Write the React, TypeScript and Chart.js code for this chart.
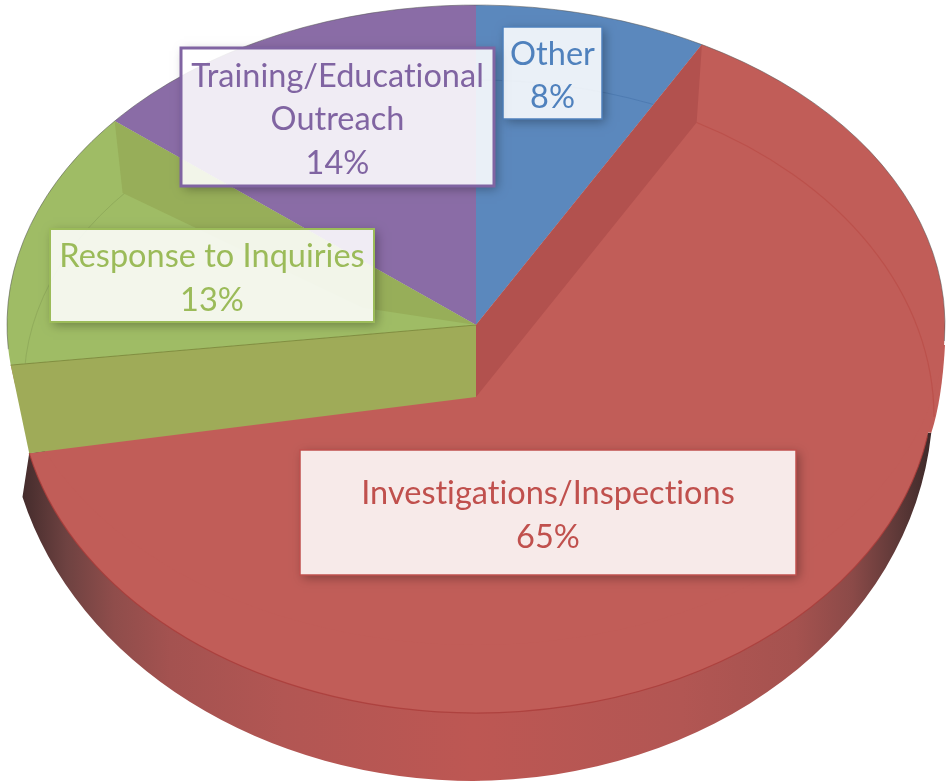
import React, { useEffect, useRef } from "react";
import { Chart, registerables } from "chart.js";

Chart.register(...registerables);

const categories = ["Other", "Investigations/Inspections", "Response to Inquiries", "Training/Educational Outreach"];
const shares = [8, 65, 13, 14];
const fillColors = ["#5b88bd", "#c15d58", "#9fbc65", "#8a6ca6"];
const textColors = ["#4f81bd", "#c0504d", "#9bbb59", "#8064a2"];

// label box layout, in category order: left, top, right, bottom, border width
const labelBoxes = [
  [503, 27, 602, 119, 1.5],
  [300, 450, 796, 575, 1.5],
  [50, 229, 374, 322, 2],
  [181, 48, 494, 186, 3],
];

const WIDTH = 947;
const HEIGHT = 782;
const TOP = { x: 476, y: 325, rx: 469, ry: 320 };
const RIM = { x: 476, y: 400, rx: 469, ry: 381 };
const RIM_RIGHT = { x: 470, y: 400, rx: 463, ry: 381 };
const FLOOR = { x: 476, y: 380, rx: 458, ry: 333 };
const UPPER_FLOOR = { x: 476, y: 417, rx: 458, ry: 336 };
const RING = { x: 476, y: 385, rx: 452, ry: 305 };
const APEX_LOW_Y = 397;
const FLOOR_DELTA = 0.096;
const RIM_DELTA = 0.132;

type E = { x: number; y: number; rx: number; ry: number };
const at = (e: E, a: number) => ({ x: e.x + e.rx * Math.cos(a), y: e.y + e.ry * Math.sin(a) });

function sector(ctx: CanvasRenderingContext2D, e: E, a: number, b: number, ax = e.x, ay = e.y) {
  ctx.beginPath();
  ctx.moveTo(ax, ay);
  ctx.ellipse(e.x, e.y, e.rx, e.ry, 0, a, b);
  ctx.closePath();
}

function poly(ctx: CanvasRenderingContext2D, pts: { x: number; y: number }[], fill: string) {
  ctx.beginPath();
  pts.forEach((p, i) => (i ? ctx.lineTo(p.x, p.y) : ctx.moveTo(p.x, p.y)));
  ctx.closePath();
  ctx.fillStyle = fill;
  ctx.fill();
}

const pie3d = {
  id: "pie3d",
  beforeDatasetsDraw(chart: any) {
    const ctx: CanvasRenderingContext2D = chart.ctx;
    const arcs = chart.getDatasetMeta(0).data;
    const red = arcs[1];
    const a1 = red.endAngle;

    const grad = ctx.createLinearGradient(0, 0, WIDTH, 0);
    grad.addColorStop(0, "#2e2222");
    grad.addColorStop(0.03, "#4a2f2f");
    grad.addColorStop(0.07, "#6e4241");
    grad.addColorStop(0.12, "#8f4d4b");
    grad.addColorStop(0.18, "#a45250");
    grad.addColorStop(0.3, "#b25653");
    grad.addColorStop(0.5, "#bd5753");
    grad.addColorStop(0.72, "#b25653");
    grad.addColorStop(0.84, "#a5524f");
    grad.addColorStop(0.9, "#8b4a48");
    grad.addColorStop(0.95, "#5c3837");
    grad.addColorStop(1, "#2e2222");

    // outer wall of the red slice
    const floorEnd = at(FLOOR, a1 - FLOOR_DELTA);
    ctx.beginPath();
    ctx.moveTo(FLOOR.x, FLOOR.y);
    ctx.lineTo(at(RIM_RIGHT, 0.087).x, at(RIM_RIGHT, 0.087).y);
    ctx.ellipse(RIM_RIGHT.x, RIM_RIGHT.y, RIM_RIGHT.rx, RIM_RIGHT.ry, 0, 0.087, Math.PI / 2);
    ctx.ellipse(RIM.x, RIM.y, RIM.rx, RIM.ry, 0, Math.PI / 2, a1 - RIM_DELTA);
    ctx.lineTo(floorEnd.x, floorEnd.y);
    ctx.closePath();
    ctx.fillStyle = grad;
    ctx.fill();

    // red shoulder bridging the top surface and the wall on the right
    ctx.beginPath();
    ctx.moveTo(TOP.x, TOP.y);
    ctx.lineTo(945, 345);
    ctx.quadraticCurveTo(942, 400, at(RIM_RIGHT, 0.087).x, at(RIM_RIGHT, 0.087).y);
    ctx.closePath();
    ctx.fillStyle = fillColors[1];
    ctx.fill();

    sector(ctx, FLOOR, 0, a1 - FLOOR_DELTA, FLOOR.x, APEX_LOW_Y);
    ctx.fill();

    ctx.beginPath();
    ctx.ellipse(FLOOR.x, FLOOR.y, FLOOR.rx, FLOOR.ry, 0, 0.17, a1 - FLOOR_DELTA);
    ctx.strokeStyle = "rgba(170,60,58,0.8)";
    ctx.lineWidth = 1.2;
    ctx.stroke();

    ctx.save();
    ctx.translate(TOP.x, TOP.y);
    ctx.scale(TOP.rx / red.outerRadius, TOP.ry / red.outerRadius);
    ctx.translate(-red.x, -red.y);
  },
  afterDatasetsDraw(chart: any) {
    const ctx: CanvasRenderingContext2D = chart.ctx;
    ctx.restore();
    const arcs = chart.getDatasetMeta(0).data;
    const red = arcs[1];
    const green = arcs[2];
    const blue = arcs[0];
    const a0 = red.startAngle;
    const a1 = red.endAngle;

    // faint inner rings on the raised slices
    ctx.save();
    sector(ctx, TOP, green.startAngle, green.endAngle);
    ctx.clip();
    ctx.beginPath();
    ctx.ellipse(RING.x, RING.y, RING.rx, RING.ry, 0, 0, Math.PI * 2);
    ctx.strokeStyle = "rgba(135,160,85,0.6)";
    ctx.lineWidth = 1;
    ctx.stroke();
    ctx.restore();
    ctx.save();
    sector(ctx, TOP, blue.startAngle, blue.endAngle);
    ctx.clip();
    ctx.beginPath();
    ctx.ellipse(RING.x, RING.y, RING.rx, RING.ry, 0, 0, Math.PI * 2);
    ctx.strokeStyle = "rgba(70,115,170,0.6)";
    ctx.lineWidth = 1;
    ctx.stroke();
    ctx.restore();

    // faint upper edge of the lowered red surface
    ctx.beginPath();
    ctx.ellipse(UPPER_FLOOR.x, UPPER_FLOOR.y, UPPER_FLOOR.rx, UPPER_FLOOR.ry, 0, a0, 0);
    ctx.strokeStyle = "rgba(185,75,70,0.7)";
    ctx.lineWidth = 1.2;
    ctx.stroke();

    const apex = { x: TOP.x, y: TOP.y };
    const apexLow = { x: TOP.x, y: APEX_LOW_Y };

    // wall between blue and red
    poly(ctx, [apex, at(TOP, a0), at(UPPER_FLOOR, a0), apexLow], "#b2514e");

    // wall between green and red
    const greenOuter = at(TOP, a1);
    const greenLow = at(FLOOR, a1 - FLOOR_DELTA);
    poly(ctx, [apex, greenOuter, greenLow, apexLow], "#9fab58");
    ctx.beginPath();
    ctx.moveTo(apex.x, apex.y);
    ctx.lineTo(greenOuter.x, greenOuter.y);
    ctx.strokeStyle = "#7f8f3f";
    ctx.lineWidth = 1;
    ctx.stroke();

    // wall between purple and green
    const gp = at(TOP, green.endAngle);
    const wall = { x: gp.x + 8, y: gp.y + 72 };
    const t = 0.68;
    const wallEnd = { x: wall.x + (apex.x - wall.x) * t, y: wall.y + (apex.y - wall.y) * t + 25 };
    poly(ctx, [gp, wall, wallEnd, apex], "#97ae59");

    // silhouette hairline of the top surface
    ctx.beginPath();
    ctx.ellipse(TOP.x, TOP.y, TOP.rx, TOP.ry, 0, a1 + 0.05, Math.PI * 2 + 0.05);
    ctx.strokeStyle = "rgba(90,90,90,0.55)";
    ctx.lineWidth = 1;
    ctx.stroke();

    // category + percentage labels
    categories.forEach((name, i) => {
      const [l, t2, r, b, bw] = labelBoxes[i];
      const w = r - l;
      const h = b - t2;
      ctx.save();
      ctx.beginPath();
      ctx.rect(0, 0, WIDTH, HEIGHT);
      ctx.rect(l, t2, w, h);
      ctx.clip("evenodd");
      ctx.shadowColor = "rgba(0,0,0,0.32)";
      ctx.shadowBlur = 10;
      ctx.shadowOffsetX = 3;
      ctx.shadowOffsetY = 3;
      ctx.fillStyle = "#fff";
      ctx.fillRect(l, t2, w, h);
      ctx.restore();
      ctx.fillStyle = "rgba(255,255,255,0.87)";
      ctx.fillRect(l, t2, w, h);
      ctx.strokeStyle = textColors[i];
      ctx.lineWidth = bw;
      ctx.strokeRect(l, t2, w, h);

      ctx.font = '32.5px Lato, "Open Sans", sans-serif';
      (ctx as any).letterSpacing = "0.01px";
      ctx.fillStyle = textColors[i];
      ctx.textAlign = "center";
      ctx.textBaseline = "alphabetic";
      const words = name.split(" ");
      const lines: string[] = [];
      let line = "";
      words.forEach((wd) => {
        const next = line ? line + " " + wd : wd;
        if (ctx.measureText(next).width > w - 10 && line) {
          lines.push(line);
          line = wd;
        } else line = next;
      });
      lines.push(line);
      lines.push(shares[i] + "%");
      const lh = 43.5;
      const total = lh * lines.length;
      const startY = t2 + (h - total) / 2 + 35;
      lines.forEach((s, k) => ctx.fillText(s, (l + r) / 2, startY + k * lh));
    });
  },
};

export default function App() {
  const ref = useRef<HTMLCanvasElement>(null);
  useEffect(() => {
    document.body.style.margin = "0";
    const chart = new Chart(ref.current as HTMLCanvasElement, {
      type: "pie",
      data: {
        labels: categories,
        datasets: [{ data: shares, backgroundColor: fillColors, borderWidth: 0, clip: false } as any],
      },
      options: {
        animation: false,
        responsive: false,
        maintainAspectRatio: false,
        layout: { padding: 0 },
        plugins: { legend: { display: false }, tooltip: { enabled: false } },
      },
      plugins: [pie3d as any],
    });
    return () => chart.destroy();
  }, []);
  return <canvas ref={ref} width={WIDTH} height={HEIGHT} style={{ display: "block", width: WIDTH, height: HEIGHT }} />;
}
